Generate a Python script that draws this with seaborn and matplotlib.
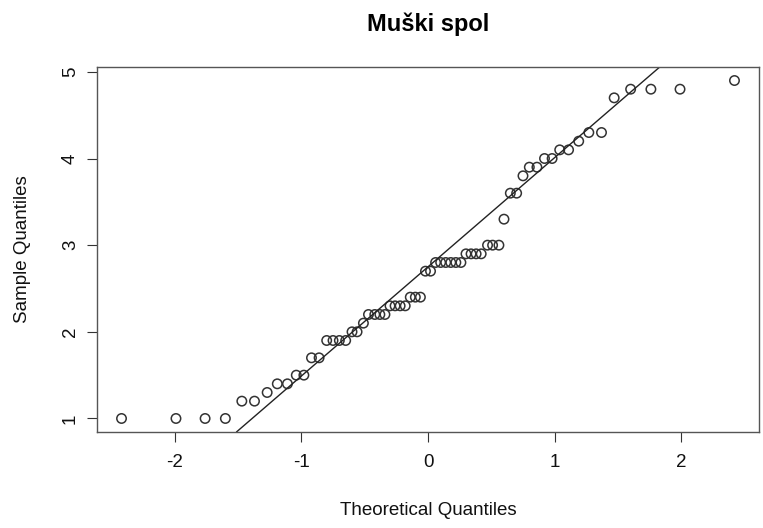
import numpy as np
import pandas as pd
import matplotlib
matplotlib.use("Agg")
import matplotlib.pyplot as plt
import seaborn as sns

# Sample values (sorted)
sample = [1.0, 1.0, 1.0, 1.0, 1.2, 1.2, 1.3, 1.4, 1.4, 1.5, 1.5, 1.7, 1.7,
          1.9, 1.9, 1.9, 1.9, 2.0, 2.0, 2.1, 2.2, 2.2, 2.2, 2.2,
          2.3, 2.3, 2.3, 2.3, 2.4, 2.4, 2.4, 2.7, 2.7,
          2.8, 2.8, 2.8, 2.8, 2.8, 2.8, 2.9, 2.9, 2.9, 2.9, 3.0, 3.0, 3.0,
          3.3, 3.6, 3.6, 3.8, 3.9, 3.9, 4.0, 4.0, 4.1, 4.1, 4.2, 4.3, 4.3,
          4.7, 4.8, 4.8, 4.8, 4.9]

# Theoretical quantiles
theoretical = [-2.42, -1.99, -1.76, -1.60, -1.47, -1.37, -1.27, -1.19,
               -1.11, -1.04, -0.98, -0.92, -0.86, -0.80, -0.75, -0.70,
               -0.65, -0.60, -0.56, -0.51, -0.47, -0.42, -0.38, -0.34,
               -0.30, -0.26, -0.22, -0.18, -0.14, -0.10, -0.06, -0.02,
               0.02, 0.06, 0.10, 0.14, 0.18, 0.22, 0.26, 0.30,
               0.34, 0.38, 0.42, 0.47, 0.51, 0.56, 0.60, 0.65,
               0.70, 0.75, 0.80, 0.86, 0.92, 0.98, 1.04, 1.11,
               1.19, 1.27, 1.37, 1.47, 1.60, 1.76, 1.99, 2.42]

x_ticks = [-2, -1, 0, 1, 2]
y_ticks = [1, 2, 3, 4, 5]

df = pd.DataFrame({"theoretical": theoretical, "sample": sample})

sns.set_style("white")
plt.rcParams["font.family"] = ["Liberation Sans", "DejaVu Sans"]
plt.rcParams["axes.unicode_minus"] = False

fig = plt.figure(figsize=(7.63, 5.28), dpi=100)
ax = fig.add_axes([97 / 763, 1 - 432 / 528, 662 / 763, 365 / 528])

sns.scatterplot(data=df, x="theoretical", y="sample", ax=ax, marker="o",
                facecolor="none", edgecolor="#333333", linewidth=1.1, s=46)

# qqline through the 1st and 3rd quartiles
q1, q3 = np.percentile(sample, [25, 75])
z1, z3 = -0.6745, 0.6745
slope = (q3 - q1) / (z3 - z1)
intercept = q1 - slope * z1
ax.axline((0, intercept), slope=slope, color="#222222", linewidth=1.0)

# R-like 4% padding
xr = max(theoretical) - min(theoretical)
yr = max(sample) - min(sample)
ax.set_xlim(min(theoretical) - 0.04 * xr, max(theoretical) + 0.04 * xr)
ax.set_ylim(min(sample) - 0.04 * yr, max(sample) + 0.04 * yr)

ax.set_xticks(x_ticks)
ax.set_xticklabels([str(t) for t in x_ticks])
ax.set_yticks(y_ticks)
ax.set_yticklabels([str(t) for t in y_ticks], rotation=90, va="center")

ax.tick_params(axis="both", which="major", direction="out", length=7,
               width=0.8, color="#333333", labelsize=13.5, labelcolor="#111111",
               bottom=True, left=True)
ax.tick_params(axis="x", pad=9)
ax.tick_params(axis="y", pad=6)

for sp in ax.spines.values():
    sp.set_visible(True)
    sp.set_color("#555555")
    sp.set_linewidth(1.0)

ax.set_xlabel("Theoretical Quantiles", fontsize=13.5, color="#111111", labelpad=22)
ax.set_ylabel("Sample Quantiles", fontsize=13.5, color="#111111", labelpad=22)
ax.set_title("Muški spol", fontsize=17, fontweight="bold", color="black", pad=26)

fig.savefig("out.png", dpi=100)
